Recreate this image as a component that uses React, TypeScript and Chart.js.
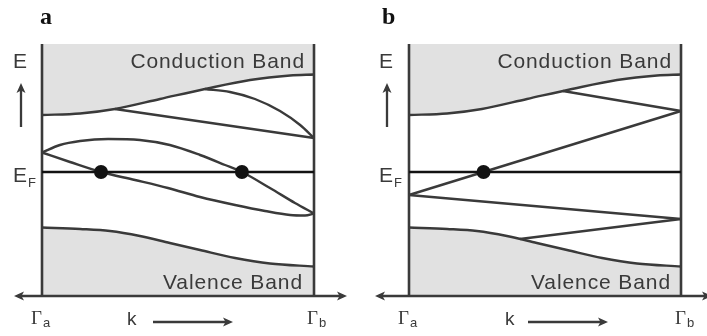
import React, { useEffect, useRef } from "react";
import { Chart, registerables } from "chart.js";

Chart.register(...registerables);

// ---- scale limits (k from Γa=0 to Γb=1, energy relative to E_F = 0)
const K_RANGE = [0, 1];
const E_RANGE = [-2.48, 2.56];

// ---- shared band edges
const kConduction = [0, 0.14, 0.268, 0.434, 0.599, 0.765, 0.912, 1];
const eConduction = [1.14, 1.17, 1.26, 1.46, 1.66, 1.84, 1.93, 1.95];
const kValence = [0, 0.14, 0.25, 0.36, 0.47, 0.581, 0.71, 0.838, 1];
const eValence = [-1.11, -1.14, -1.18, -1.28, -1.42, -1.56, -1.72, -1.83, -1.89];
const kFermi = [0, 1];
const eFermi = [0, 0];

// ---- panel a
const kA1 = [0.268, 1];
const eA1 = [1.26, 0.68];
const kA2 = [0.599, 0.691, 0.783, 0.875, 0.949, 1];
const eA2 = [1.66, 1.6, 1.46, 1.22, 0.94, 0.68];
const kArch = [0, 0.066, 0.14, 0.243, 0.36, 0.47, 0.581, 0.673, 0.735, 0.838, 0.93, 1];
const eArch = [0.39, 0.54, 0.62, 0.66, 0.64, 0.54, 0.34, 0.14, 0, -0.32, -0.62, -0.83];
const kLower = [0, 0.103, 0.217, 0.342, 0.463, 0.581, 0.71, 0.82, 0.912, 0.967, 1];
const eLower = [0.39, 0.2, 0, -0.16, -0.32, -0.5, -0.66, -0.78, -0.86, -0.87, -0.83];
const kDotsA = [0.217, 0.735];
const eDotsA = [0, 0];

// ---- panel b
const kB1 = [0.566, 1];
const eB1 = [1.62, 1.22];
const kB2 = [0, 1];
const eB2 = [-0.46, 1.22];
const kB3 = [0, 1];
const eB3 = [-0.46, -0.94];
const kB4 = [0.408, 1];
const eB4 = [-1.34, -0.94];
const kDotsB = [0.274];
const eDotsB = [0];

// ---- text
const PANEL_LABELS = ["a", "b"];
const CONDUCTION_TEXT = "Conduction Band";
const VALENCE_TEXT = "Valence Band";

const LINE = "#3a3a3a";
const FILL = "#e1e1e1";
const BLACK = "#121212";
const TEXT = "#3a3a3a";

const pts = (k: number[], e: number[]) => k.map((x, i) => ({ x, y: e[i] }));

function lineDs(data: any, extra: any = {}) {
  return {
    type: "line",
    data,
    borderColor: LINE,
    borderWidth: 2.4,
    pointRadius: 0,
    fill: false,
    cubicInterpolationMode: "monotone",
    clip: false,
    ...extra,
  };
}

function arrowHead(ctx: CanvasRenderingContext2D, tx: number, ty: number, ang: number, len = 10, half = 4.5) {
  const c = Math.cos(ang), s = Math.sin(ang);
  const bx = tx - c * len, by = ty - s * len;
  const nx = tx - c * len * 0.75, ny = ty - s * len * 0.75;
  ctx.beginPath();
  ctx.moveTo(tx, ty);
  ctx.lineTo(bx - s * half, by + c * half);
  ctx.lineTo(nx, ny);
  ctx.lineTo(bx + s * half, by - c * half);
  ctx.closePath();
  ctx.fill();
}

type Spec = {
  label: string;
  width: number;
  padLeft: number;
  padRight: number;
  labelDx: number;
  eDx: number;
  upDx: number;
  gammaADx: number;
  kDx: number;
  kArrow: [number, number];
  gammaBDx: number;
  axisL: number;
  axisR: number;
  condDx: number;
  valDx: number;
};

function decoPlugin(spec: Spec) {
  return {
    id: "deco",
    afterDatasetsDraw(chart: any) {
      const { ctx, chartArea } = chart;
      const { left: L, right: R, bottom: B } = chartArea;
      const yF = chart.scales.y.getPixelForValue(0);
      ctx.save();
      ctx.fillStyle = LINE;
      ctx.strokeStyle = LINE;
      // horizontal axis with arrows
      ctx.lineWidth = 2.5;
      ctx.beginPath();
      ctx.moveTo(L + spec.axisL + 4, B);
      ctx.lineTo(R + spec.axisR - 4, B);
      ctx.stroke();
      arrowHead(ctx, L + spec.axisL, B, Math.PI);
      arrowHead(ctx, R + spec.axisR, B, 0);
      // up arrow for E
      const ux = L + spec.upDx;
      ctx.lineWidth = 2.3;
      ctx.beginPath();
      ctx.moveTo(ux, 127);
      ctx.lineTo(ux, 88);
      ctx.stroke();
      arrowHead(ctx, ux, 83, -Math.PI / 2, 10, 4.5);
      // k arrow
      ctx.beginPath();
      ctx.moveTo(L + spec.kArrow[0], 322);
      ctx.lineTo(L + spec.kArrow[1] - 5, 322);
      ctx.stroke();
      arrowHead(ctx, L + spec.kArrow[1], 322, 0, 10, 4.5);

      // texts
      ctx.textBaseline = "alphabetic";
      ctx.textAlign = "left";
      ctx.fillStyle = "#111";
      ctx.font = 'bold 24px "Liberation Serif"';
      ctx.fillText(spec.label, L + spec.labelDx, 24);

      ctx.fillStyle = TEXT;
      ctx.font = '21px "Liberation Sans"';
      ctx.fillText("E", L + spec.eDx, 68);
      ctx.fillText("E", L + spec.eDx, yF + 10);
      const ew = ctx.measureText("E").width;
      ctx.font = '13px "Liberation Sans"';
      ctx.fillText("F", L + spec.eDx + ew + 1, yF + 15);

      // Gamma labels
      ctx.font = '19px "Liberation Serif"';
      const gw = ctx.measureText("Γ").width;
      ctx.fillText("Γ", L + spec.gammaADx, 324);
      ctx.fillText("Γ", R + spec.gammaBDx, 324);
      ctx.font = '13px "Liberation Sans"';
      ctx.fillText("a", L + spec.gammaADx + gw + 1, 327);
      ctx.fillText("b", R + spec.gammaBDx + gw + 1, 327);

      ctx.font = '19px "Liberation Sans"';
      ctx.fillText("k", L + spec.kDx, 325);

      // band names
      ctx.font = '21px "Liberation Sans"';
      (ctx as any).letterSpacing = "0.9px";
      ctx.textAlign = "right";
      ctx.fillText(CONDUCTION_TEXT, R + spec.condDx, 68);
      ctx.fillText(VALENCE_TEXT, R + spec.valDx, 289);
      ctx.restore();
    },
  };
}

function buildDatasets(panel: number) {
  const dots = panel === 0 ? pts(kDotsA, eDotsA) : pts(kDotsB, eDotsB);
  const straight = { tension: 0, cubicInterpolationMode: "default" };
  const walls = [
    lineDs([{ x: 0, y: E_RANGE[0] }, { x: 0, y: E_RANGE[1] }], { borderWidth: 2.6, ...straight }),
    lineDs([{ x: 1, y: E_RANGE[0] }, { x: 1, y: E_RANGE[1] }], { borderWidth: 2.6, ...straight }),
  ];
  const inner =
    panel === 0
      ? [
          lineDs(pts(kA1, eA1), straight),
          lineDs(pts(kA2, eA2)),
          lineDs(pts(kArch, eArch)),
          lineDs(pts(kLower, eLower)),
        ]
      : [
          lineDs(pts(kB1, eB1), straight),
          lineDs(pts(kB2, eB2), straight),
          lineDs(pts(kB3, eB3), straight),
          lineDs(pts(kB4, eB4), straight),
        ];
  return [
    {
      type: "line",
      data: dots,
      showLine: false,
      pointRadius: 7,
      pointBackgroundColor: BLACK,
      pointBorderWidth: 0,
      clip: false,
    },
    lineDs(pts(kFermi, eFermi), { borderColor: BLACK, borderWidth: 2.6, ...straight }),
    ...inner,
    lineDs(pts(kConduction, eConduction), { fill: "end", backgroundColor: FILL }),
    lineDs(pts(kValence, eValence), { fill: "start", backgroundColor: FILL }),
    ...walls,
  ];
}

const SPECS: Spec[] = [
  {
    label: PANEL_LABELS[0],
    width: 354,
    padLeft: 42,
    padRight: 40,
    labelDx: -2,
    eDx: -29,
    upDx: -21,
    gammaADx: -11,
    kDx: 85,
    kArrow: [111, 191],
    gammaBDx: -7,
    axisL: -28,
    axisR: 33,
    condDx: -9,
    valDx: -11,
  },
  {
    label: PANEL_LABELS[1],
    width: 353,
    padLeft: 55,
    padRight: 26,
    labelDx: -27,
    eDx: -30,
    upDx: -22,
    gammaADx: -11,
    kDx: 96,
    kArrow: [119, 199],
    gammaBDx: -6,
    axisL: -34,
    axisR: 31,
    condDx: -9,
    valDx: -10,
  },
];

function Panel({ spec, index }: { spec: Spec; index: number }) {
  const ref = useRef<HTMLCanvasElement>(null);
  useEffect(() => {
    if (!ref.current) return;
    const chart = new Chart(ref.current, {
      type: "line",
      data: { datasets: buildDatasets(index) as any },
      options: {
        responsive: false,
        maintainAspectRatio: false,
        animation: false,
        events: [],
        layout: { padding: { left: spec.padLeft, right: spec.padRight, top: 44, bottom: 40 } },
        scales: {
          x: { type: "linear", min: K_RANGE[0], max: K_RANGE[1], display: false },
          y: { type: "linear", min: E_RANGE[0], max: E_RANGE[1], display: false },
        },
        plugins: {
          legend: { display: false },
          tooltip: { enabled: false },
          filler: { drawTime: "beforeDatasetsDraw" } as any,
        },
      },
      plugins: [decoPlugin(spec)],
    });
    return () => chart.destroy();
  }, []);
  return <canvas ref={ref} width={spec.width} height={336} style={{ display: "block" }} />;
}

export default function App() {
  return (
    <div style={{ position: "absolute", left: 0, top: 0, width: 707, height: 336, display: "flex", background: "#fff" }}>
      {SPECS.map((s, i) => (
        <Panel key={i} spec={s} index={i} />
      ))}
    </div>
  );
}
